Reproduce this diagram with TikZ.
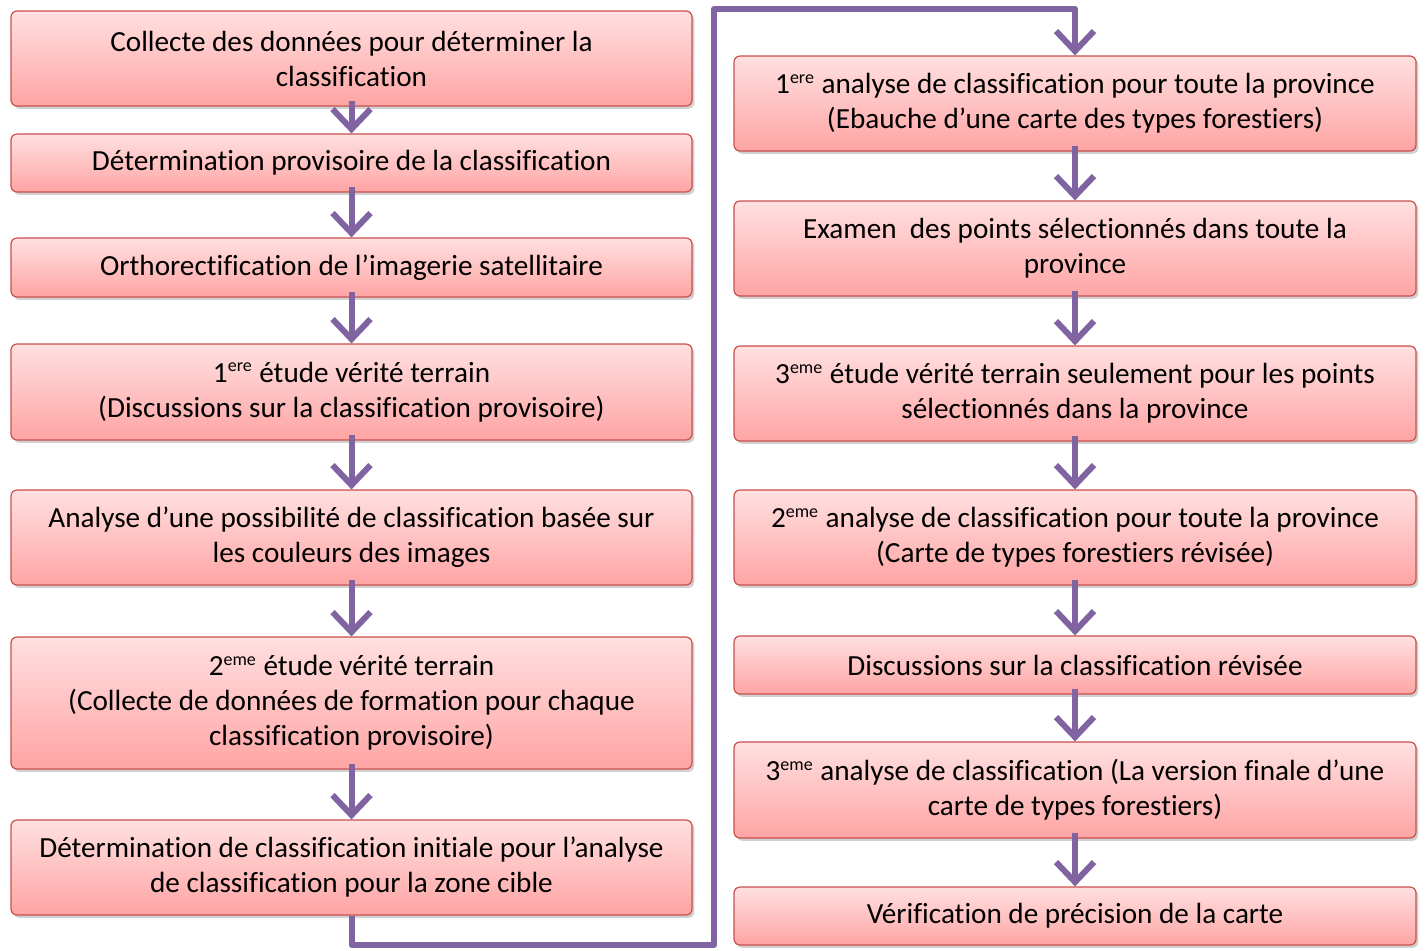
\documentclass[tikz,border=0pt]{standalone}
\usepackage{fontspec}
\setmainfont{Carlito}[Ligatures=NoCommon]
\usetikzlibrary{arrows.meta,shadows}

\definecolor{rosehaut}{RGB}{255,224,224}
\definecolor{rosebas}{RGB}{255,164,164}
\definecolor{bordrouge}{RGB}{200,80,77}
\definecolor{violet}{RGB}{128,100,162}

\newcommand{\eme}[1]{\textsuperscript{\fontsize{9}{9}\selectfont #1}}

\tikzset{
  etape/.style={draw=bordrouge, line width=0.6pt, rounded corners=3pt,
    top color=rosehaut, bottom color=rosebas, inner sep=0pt,
    align=center, font=\fontsize{14.6}{17.5}\selectfont,
    drop shadow={shadow xshift=1.2pt, shadow yshift=-1.4pt, opacity=0.3, fill=black!60}},
  gauche/.style={etape, minimum width=340.5pt},
  droite/.style={etape, minimum width=341pt},
  fleche/.style={draw=violet, line width=3pt, line join=round,
    -{Straight Barb[length=10pt,width=19pt]}}
}

\begin{document}
\begin{tikzpicture}[x=0.5pt,y=-0.5pt]
  \useasboundingbox (0,0) rectangle (1427,950);

  % Colonne de gauche
  \node[gauche, minimum height=47.5pt] (g1) at (351.5,58.5)
    {Collecte des données pour déterminer la\\classification};
  \node[gauche, minimum height=29pt] (g2) at (351.5,163)
    {Détermination provisoire de la classification};
  \node[gauche, minimum height=29.5pt] (g3) at (351.5,267.5)
    {Orthorectification de l’imagerie satellitaire};
  \node[gauche, minimum height=48pt] (g4) at (351.5,392)
    {1\eme{ere} étude vérité terrain\\(Discussions sur la classification provisoire)};
  \node[gauche, minimum height=47.5pt] (g5) at (351.5,537.5)
    {Analyse d’une possibilité de classification basée sur\\les couleurs des images};
  \node[gauche, minimum height=66pt] (g6) at (351.5,703)
    {2\eme{eme} étude vérité terrain\\(Collecte de données de formation pour chaque\\classification provisoire)};
  \node[gauche, minimum height=47.5pt] (g7) at (351.5,867.5)
    {Détermination de classification initiale pour l’analyse\\de classification pour la zone cible};

  % Colonne de droite
  \node[droite, minimum height=47.5pt] (d1) at (1075,103.5)
    {1\eme{ere} analyse de classification pour toute la province\\(Ebauche d’une carte des types forestiers)};
  \node[droite, minimum height=47.5pt] (d2) at (1075,248.5)
    {Examen\ \ des points sélectionnés dans toute la\\province};
  \node[droite, minimum height=47.5pt] (d3) at (1075,393.5)
    {3\eme{eme} étude vérité terrain seulement pour les points\\sélectionnés dans la province};
  \node[droite, minimum height=47.5pt] (d4) at (1075,537.5)
    {2\eme{eme} analyse de classification pour toute la province\\(Carte de types forestiers révisée)};
  \node[droite, minimum height=29pt] (d5) at (1075,665)
    {Discussions sur la classification révisée};
  \node[droite, minimum height=48pt] (d6) at (1075,790)
    {3\eme{eme} analyse de classification (La version finale d’une\\carte de types forestiers)};
  \node[droite, minimum height=29pt] (d7) at (1075,916)
    {Vérification de précision de la carte};

  % Flèches
  \foreach \a/\b in {g1/g2,g2/g3,g3/g4,g4/g5,g5/g6,g6/g7,
                     d1/d2,d2/d3,d3/d4,d4/d5,d5/d6,d6/d7}
    \draw[fleche] ([yshift=3pt]\a.south) -- (\b.north);

  % Liaison entre les colonnes
  \coordinate (bas) at (714,945);
  \coordinate (haut) at (714,9);
  \draw[fleche] (g7.south) |- (bas) -- (haut) -| (d1.north);
\end{tikzpicture}
\end{document}
